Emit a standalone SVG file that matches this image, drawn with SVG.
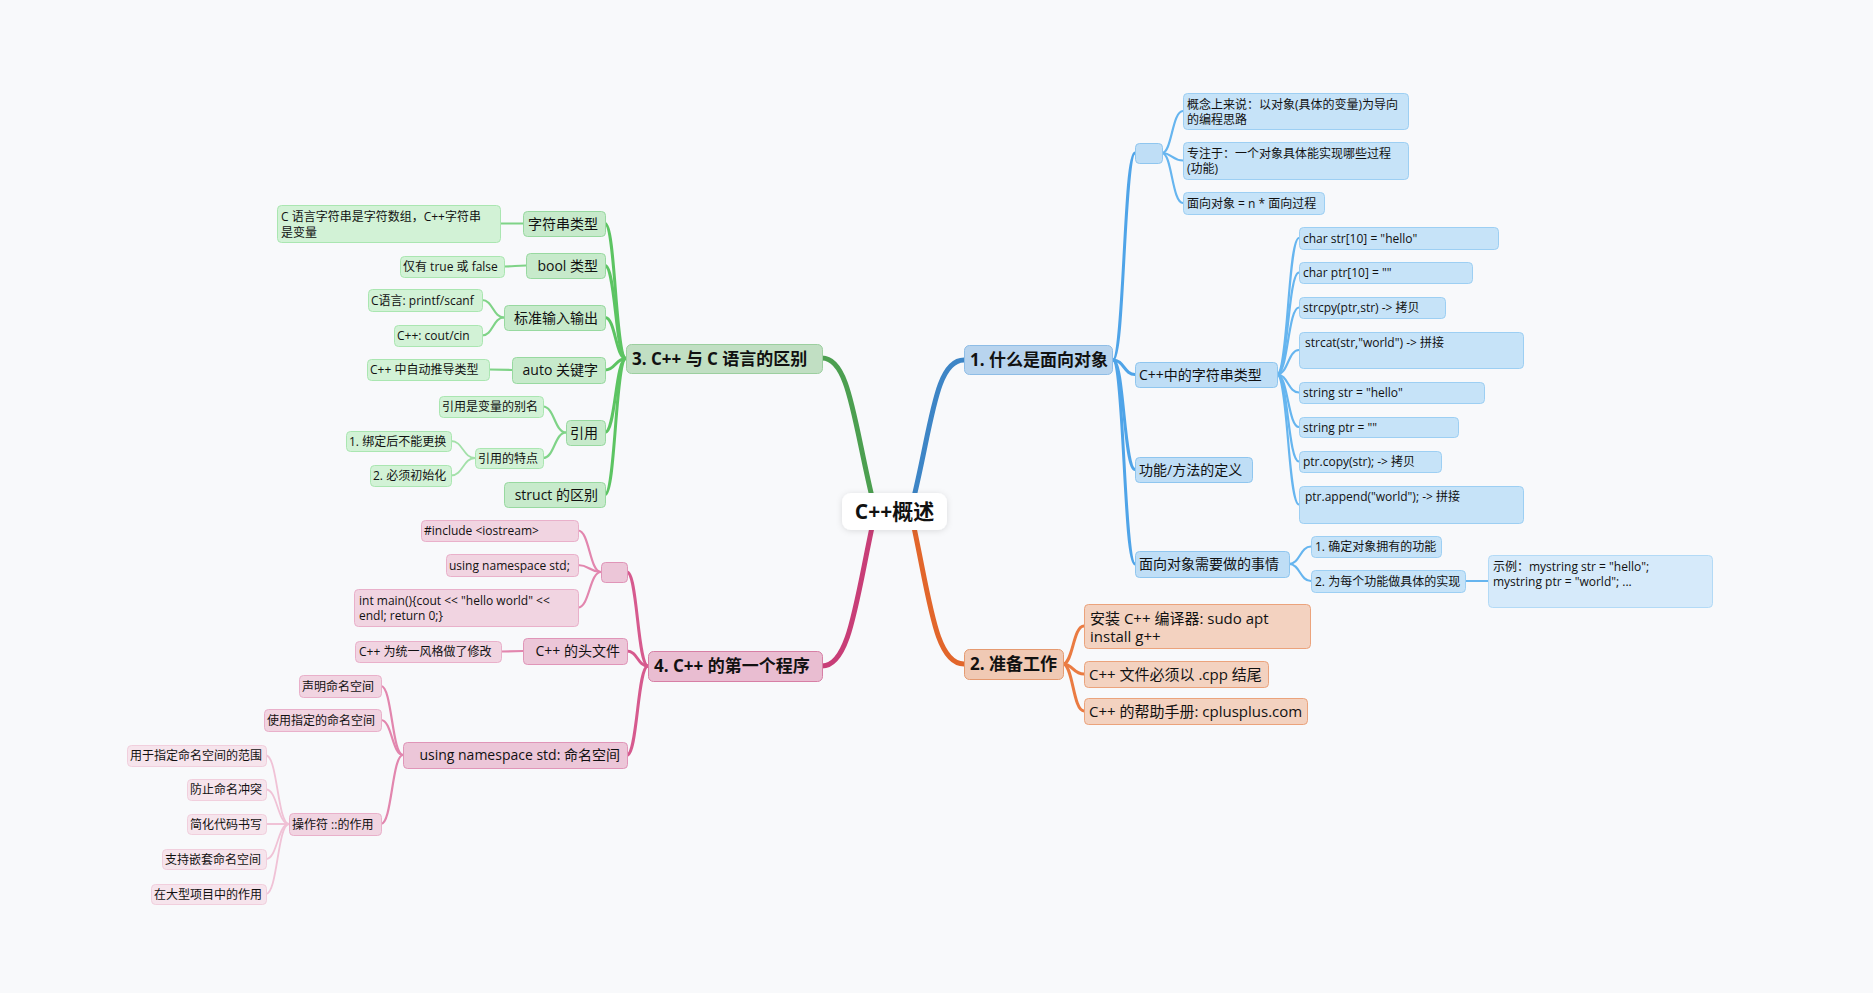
<svg xmlns="http://www.w3.org/2000/svg" width="1873" height="993" viewBox="0 0 1873 993">
<defs>
<filter id="sh" x="-20%" y="-30%" width="140%" height="160%"><feDropShadow dx="0" dy="1" stdDeviation="3" flood-color="#000" flood-opacity="0.12"/></filter>
<style>
text{font-family:"Open Sans","Noto Sans CJK SC",sans-serif;fill:#111;}
.t17{font-size:17px;font-weight:bold;}
.t15{font-size:15px;}
.t14{font-size:14px;}
.t12{font-size:12px;}
.e{text-anchor:end;}
.c{fill:none;stroke-linecap:round;}
.m{stroke-width:5;}
.l2{stroke-width:3;}
.l3{stroke-width:2.2;}
.l4{stroke-width:1.8;}
.bl{stroke:#4fa4e8;} .bl3{stroke:#66b5ef;}
.or{stroke:#ea7b42;}
.gr{stroke:#5cc462;} .gr3{stroke:#7fd387;} .gr4{stroke:#a3e0a9;}
.pk{stroke:#d65a8e;} .pk3{stroke:#e286ae;} .pk4{stroke:#f0c2d6;}
.b1{fill:#b8d4ee;stroke:#8ebde6;stroke-width:1;}
.b2{fill:#bfdef6;stroke:#8fc6ef;stroke-width:1;}
.b3{fill:#c6e3f8;stroke:#9dcff3;stroke-width:1;}
.b4{fill:#d6eafa;stroke:#b3daf6;stroke-width:1;}
.o1{fill:#f0c9b4;stroke:#e59a70;stroke-width:1;}
.o2{fill:#f3d2c0;stroke:#eba37c;stroke-width:1;}
.g1{fill:#c1dfc3;stroke:#9ccf9f;stroke-width:1;}
.g2{fill:#c7eacb;stroke:#98d9a0;stroke-width:1;}
.g3{fill:#d2f2d6;stroke:#aae6b1;stroke-width:1;}
.p1{fill:#e9bdd1;stroke:#d77fa5;stroke-width:1;}
.p2{fill:#ecc6d8;stroke:#e095b8;stroke-width:1;}
.p3{fill:#f1d4e1;stroke:#e9b0ca;stroke-width:1;}
.p4{fill:#f6e4ec;stroke:#f1cfdd;stroke-width:1;}
</style>
</defs>
<rect width="1873" height="993" fill="#f8f9fb"/>

<g id="connectors">
<path class="c m" stroke="#3d85c6" d="M912 505 C932 425 935 360 964 360"/>
<path class="c m" stroke="#e2662b" d="M912 518 C930 600 935 664 964 664"/>
<path class="c m" stroke="#4c9f50" d="M874 505 C854 425 850 358 822 358"/>
<path class="c m" stroke="#c83e77" d="M874 518 C856 600 850 666 822 666"/>
<path class="c l2 bl" d="M1113 360 C1124 360 1124 153 1135 153"/>
<path class="c l2 bl" d="M1113 360 C1124 360 1124 374.5 1135 374.5"/>
<path class="c l2 bl" d="M1113 360 C1124 360 1124 469.5 1135 469.5"/>
<path class="c l2 bl" d="M1113 360 C1124 360 1124 564 1135 564"/>
<path class="c l3 bl3" d="M1162 153 C1172 153 1172 111 1183 111"/>
<path class="c l3 bl3" d="M1162 153 C1172 153 1172 160.5 1183 160.5"/>
<path class="c l3 bl3" d="M1162 153 C1172 153 1172 203 1183 203"/>
<path class="c l3 bl3" d="M1277 374.5 C1288 374.5 1288 238 1299 238"/>
<path class="c l3 bl3" d="M1277 374.5 C1288 374.5 1288 272.5 1299 272.5"/>
<path class="c l3 bl3" d="M1277 374.5 C1288 374.5 1288 307.5 1299 307.5"/>
<path class="c l3 bl3" d="M1277 374.5 C1288 374.5 1288 350 1299 350"/>
<path class="c l3 bl3" d="M1277 374.5 C1288 374.5 1288 392.5 1299 392.5"/>
<path class="c l3 bl3" d="M1277 374.5 C1288 374.5 1288 427 1299 427"/>
<path class="c l3 bl3" d="M1277 374.5 C1288 374.5 1288 461.5 1299 461.5"/>
<path class="c l3 bl3" d="M1277 374.5 C1288 374.5 1288 504.5 1299 504.5"/>
<path class="c l3 bl3" d="M1289 564 C1300 564 1300 546.5 1311 546.5"/>
<path class="c l3 bl3" d="M1289 564 C1300 564 1300 581 1311 581"/>
<path class="c l4 bl3" d="M1465 581 L1488 581"/>
<path class="c l2 or" d="M1063 664 C1073 664 1073 626 1084 626"/>
<path class="c l2 or" d="M1063 664 C1073 664 1073 674 1084 674"/>
<path class="c l2 or" d="M1063 664 C1073 664 1073 711 1084 711"/>
<path class="c l2 gr" d="M626 358.5 C615.5 358.5 615.5 223.5 605 223.5"/>
<path class="c l2 gr" d="M626 358.5 C615.5 358.5 615.5 265.5 605 265.5"/>
<path class="c l2 gr" d="M626 358.5 C615.5 358.5 615.5 317.5 605 317.5"/>
<path class="c l2 gr" d="M626 358.5 C615.5 358.5 615.5 370 605 370"/>
<path class="c l2 gr" d="M626 358.5 C615.5 358.5 615.5 432.5 605 432.5"/>
<path class="c l2 gr" d="M626 358.5 C615.5 358.5 615.5 494.5 605 494.5"/>
<path class="c l3 gr3" d="M523 223.5 L500 223.5"/>
<path class="c l3 gr3" d="M526 265.5 C515 265.5 515 266.5 504 266.5"/>
<path class="c l3 gr3" d="M504 317.5 C493 317.5 493 300 482 300"/>
<path class="c l3 gr3" d="M504 317.5 C493 317.5 493 335.5 482 335.5"/>
<path class="c l3 gr3" d="M512 370 L489 369.5"/>
<path class="c l3 gr3" d="M566 432.5 C554.5 432.5 554.5 406.5 543 406.5"/>
<path class="c l3 gr3" d="M566 432.5 C554.5 432.5 554.5 458 543 458"/>
<path class="c l4 gr4" d="M475 458 C463 458 463 441 451 441"/>
<path class="c l4 gr4" d="M475 458 C463 458 463 475.5 451 475.5"/>
<path class="c l2 pk" d="M648 666 C637.5 666 637.5 572 627 572"/>
<path class="c l2 pk" d="M648 666 C637.5 666 637.5 651 627 651"/>
<path class="c l2 pk" d="M648 666 C637.5 666 637.5 755 627 755"/>
<path class="c l3 pk3" d="M601 572 C589.5 572 589.5 530.5 578 530.5"/>
<path class="c l3 pk3" d="M601 572 C589.5 572 589.5 565 578 565"/>
<path class="c l3 pk3" d="M601 572 C589.5 572 589.5 607.5 578 607.5"/>
<path class="c l3 pk3" d="M523 651 L501 651.5"/>
<path class="c l3 pk3" d="M403 755 C392 755 392 686 381 686"/>
<path class="c l3 pk3" d="M403 755 C392 755 392 720 381 720"/>
<path class="c l3 pk3" d="M403 755 C392 755 392 824 381 824"/>
<path class="c l4 pk4" d="M289 824 C277.5 824 277.5 755.5 266 755.5"/>
<path class="c l4 pk4" d="M289 824 C277.5 824 277.5 789.5 266 789.5"/>
<path class="c l4 pk4" d="M289 824 L266 824"/>
<path class="c l4 pk4" d="M289 824 C277.5 824 277.5 859 266 859"/>
<path class="c l4 pk4" d="M289 824 C277.5 824 277.5 894 266 894"/>
</g>

<g id="root"><rect x="842" y="493" width="105" height="37" rx="9" fill="#fff" filter="url(#sh)"/><text x="894.5" y="519" text-anchor="middle" style="font-size:21px;font-weight:bold">C++概述</text></g>

<g id="b1"><rect class="b1" x="964.5" y="345.5" width="148" height="29" rx="5"/><text class="t17" x="970" y="366">1. 什么是面向对象</text></g>
<g id="b1a"><rect class="b2" x="1135.5" y="143.5" width="27" height="20" rx="4"/></g>
<g id="b1a1"><rect class="b3" x="1183.5" y="93.5" width="225" height="36" rx="4"/><text class="t12" x="1187" y="109">概念上来说：以对象(具体的变量)为导向</text><text class="t12" x="1187" y="124">的编程思路</text></g>
<g id="b1a2"><rect class="b3" x="1183.5" y="142.5" width="225" height="37" rx="4"/><text class="t12" x="1187" y="158">专注于：一个对象具体能实现哪些过程</text><text class="t12" x="1187" y="173">(功能)</text></g>
<g id="b1a3"><rect class="b3" x="1183.5" y="192.5" width="141" height="22" rx="4"/><text class="t12" x="1187" y="208">面向对象 = n * 面向过程</text></g>
<g id="b1b"><rect class="b2" x="1135.5" y="362.5" width="142" height="25" rx="4"/><text class="t14" x="1139" y="380">C++中的字符串类型</text></g>
<g id="b1b1"><rect class="b3" x="1299.5" y="227.5" width="199" height="22" rx="4"/><text class="t12" x="1303" y="243">char str[10] = "hello"</text></g>
<g id="b1b2"><rect class="b3" x="1299.5" y="262.5" width="173" height="21" rx="4"/><text class="t12" x="1303" y="277">char ptr[10] = ""</text></g>
<g id="b1b3"><rect class="b3" x="1299.5" y="297.5" width="146" height="21" rx="4"/><text class="t12" x="1303" y="312">strcpy(ptr,str) -&gt; 拷贝</text></g>
<g id="b1b4"><rect class="b3" x="1299.5" y="332.5" width="224" height="36" rx="4"/><text class="t12" x="1305" y="347">strcat(str,"world") -&gt; 拼接</text></g>
<g id="b1b5"><rect class="b3" x="1299.5" y="382.5" width="185" height="21" rx="4"/><text class="t12" x="1303" y="397">string str = "hello"</text></g>
<g id="b1b6"><rect class="b3" x="1299.5" y="417.5" width="159" height="20" rx="4"/><text class="t12" x="1303" y="432">string ptr = ""</text></g>
<g id="b1b7"><rect class="b3" x="1299.5" y="451.5" width="142" height="21" rx="4"/><text class="t12" x="1303" y="466">ptr.copy(str); -&gt; 拷贝</text></g>
<g id="b1b8"><rect class="b3" x="1299.5" y="486.5" width="224" height="37" rx="4"/><text class="t12" x="1305" y="501">ptr.append("world"); -&gt; 拼接</text></g>
<g id="b1c"><rect class="b2" x="1135.5" y="457.5" width="117" height="25" rx="4"/><text class="t14" x="1139" y="475">功能/方法的定义</text></g>
<g id="b1d"><rect class="b2" x="1135.5" y="551.5" width="154" height="26" rx="4"/><text class="t14" x="1139" y="569">面向对象需要做的事情</text></g>
<g id="b1d1"><rect class="b3" x="1311.5" y="536.5" width="130" height="21" rx="4"/><text class="t12" x="1315" y="551">1. 确定对象拥有的功能</text></g>
<g id="b1d2"><rect class="b3" x="1311.5" y="570.5" width="154" height="22" rx="4"/><text class="t12" x="1315" y="586">2. 为每个功能做具体的实现</text></g>
<g id="b1d2a"><rect class="b4" x="1488.5" y="555.5" width="224" height="52" rx="4"/><text class="t12" x="1493" y="571">示例：mystring str = "hello";</text><text class="t12" x="1493" y="586">mystring ptr = "world"; ...</text></g>

<g id="o1"><rect class="o1" x="964.5" y="649.5" width="99" height="30" rx="5"/><text class="t17" x="970" y="670">2. 准备工作</text></g>
<g id="o1a"><rect class="o2" x="1084.5" y="604.5" width="226" height="44" rx="4"/><text class="t15" x="1090" y="624">安装 C++ 编译器: sudo apt</text><text class="t15" x="1090" y="642">install g++</text></g>
<g id="o1b"><rect class="o2" x="1084.5" y="661.5" width="184" height="26" rx="4"/><text class="t15" x="1089" y="680">C++ 文件必须以 .cpp 结尾</text></g>
<g id="o1c"><rect class="o2" x="1084.5" y="698.5" width="223" height="26" rx="4"/><text class="t15" x="1089" y="717">C++ 的帮助手册: cplusplus.com</text></g>

<g id="g1"><rect class="g1" x="626.5" y="344.5" width="196" height="29" rx="5"/><text class="t17" x="632" y="365">3. C++ 与 C 语言的区别</text></g>
<g id="g1a"><rect class="g2" x="523.5" y="211.5" width="82" height="25" rx="4"/><text class="t14 e" x="598" y="229">字符串类型</text></g>
<g id="g1a1"><rect class="g3" x="277.5" y="205.5" width="223" height="37" rx="4"/><text class="t12" x="281" y="221">C 语言字符串是字符数组，C++字符串</text><text class="t12" x="281" y="237">是变量</text></g>
<g id="g1b"><rect class="g2" x="526.5" y="253.5" width="79" height="25" rx="4"/><text class="t14 e" x="598" y="271">bool 类型</text></g>
<g id="g1b1"><rect class="g3" x="400.5" y="256.5" width="104" height="21" rx="4"/><text class="t12" x="403" y="271">仅有 true 或 false</text></g>
<g id="g1c"><rect class="g2" x="504.5" y="305.5" width="101" height="25" rx="4"/><text class="t14 e" x="598" y="323">标准输入输出</text></g>
<g id="g1c1"><rect class="g3" x="368.5" y="289.5" width="114" height="22" rx="4"/><text class="t12" x="371" y="305">C语言: printf/scanf</text></g>
<g id="g1c2"><rect class="g3" x="394.5" y="325.5" width="88" height="21" rx="4"/><text class="t12" x="397" y="340">C++: cout/cin</text></g>
<g id="g1d"><rect class="g2" x="512.5" y="357.5" width="93" height="26" rx="4"/><text class="t14 e" x="598" y="375">auto 关键字</text></g>
<g id="g1d1"><rect class="g3" x="367.5" y="359.5" width="122" height="21" rx="4"/><text class="t12" x="370" y="374">C++ 中自动推导类型</text></g>
<g id="g1e"><rect class="g2" x="566.5" y="420.5" width="39" height="25" rx="4"/><text class="t14 e" x="598" y="438">引用</text></g>
<g id="g1e1"><rect class="g3" x="439.5" y="396.5" width="104" height="21" rx="4"/><text class="t12" x="442" y="411">引用是变量的别名</text></g>
<g id="g1e2"><rect class="g3" x="475.5" y="448.5" width="68" height="20" rx="4"/><text class="t12" x="478" y="463">引用的特点</text></g>
<g id="g1e2a"><rect class="g3" x="346.5" y="431.5" width="105" height="20" rx="4"/><text class="t12" x="349" y="446">1. 绑定后不能更换</text></g>
<g id="g1e2b"><rect class="g3" x="370.5" y="465.5" width="81" height="21" rx="4"/><text class="t12" x="373" y="480">2. 必须初始化</text></g>
<g id="g1f"><rect class="g2" x="504.5" y="482.5" width="101" height="25" rx="4"/><text class="t14 e" x="598" y="500">struct 的区别</text></g>

<g id="p1"><rect class="p1" x="648.5" y="651.5" width="174" height="30" rx="5"/><text class="t17" x="654" y="672">4. C++ 的第一个程序</text></g>
<g id="p1a"><rect class="p2" x="601.5" y="562.5" width="26" height="20" rx="4"/></g>
<g id="p1a1"><rect class="p3" x="421.5" y="520.5" width="157" height="21" rx="4"/><text class="t12" x="424" y="535">#include &lt;iostream&gt;</text></g>
<g id="p1a2"><rect class="p3" x="446.5" y="554.5" width="132" height="22" rx="4"/><text class="t12" x="449" y="570">using namespace std;</text></g>
<g id="p1a3"><rect class="p3" x="354.5" y="589.5" width="224" height="37" rx="4"/><text class="t12" x="359" y="605">int main(){cout &lt;&lt; "hello world" &lt;&lt;</text><text class="t12" x="359" y="620">endl; return 0;}</text></g>
<g id="p1b"><rect class="p2" x="523.5" y="638.5" width="104" height="26" rx="4"/><text class="t14 e" x="620" y="656">C++ 的头文件</text></g>
<g id="p1b1"><rect class="p3" x="355.5" y="641.5" width="146" height="21" rx="4"/><text class="t12" x="359" y="656">C++ 为统一风格做了修改</text></g>
<g id="p1c"><rect class="p2" x="403.5" y="742.5" width="224" height="26" rx="4"/><text class="t14 e" x="620" y="760">using namespace std: 命名空间</text></g>
<g id="p1c1"><rect class="p3" x="299.5" y="675.5" width="82" height="22" rx="4"/><text class="t12" x="302" y="691">声明命名空间</text></g>
<g id="p1c2"><rect class="p3" x="264.5" y="709.5" width="117" height="22" rx="4"/><text class="t12" x="267" y="725">使用指定的命名空间</text></g>
<g id="p1c3"><rect class="p3" x="289.5" y="813.5" width="92" height="22" rx="4"/><text class="t12" x="292" y="829">操作符 ::的作用</text></g>
<g id="p1c3a"><rect class="p4" x="127.5" y="745.5" width="139" height="21" rx="4"/><text class="t12" x="130" y="760">用于指定命名空间的范围</text></g>
<g id="p1c3b"><rect class="p4" x="187.5" y="779.5" width="79" height="21" rx="4"/><text class="t12" x="190" y="794">防止命名冲突</text></g>
<g id="p1c3c"><rect class="p4" x="187.5" y="814.5" width="79" height="20" rx="4"/><text class="t12" x="190" y="829">简化代码书写</text></g>
<g id="p1c3d"><rect class="p4" x="162.5" y="849.5" width="104" height="20" rx="4"/><text class="t12" x="165" y="864">支持嵌套命名空间</text></g>
<g id="p1c3e"><rect class="p4" x="151.5" y="884.5" width="115" height="20" rx="4"/><text class="t12" x="154" y="899">在大型项目中的作用</text></g>
</svg>
